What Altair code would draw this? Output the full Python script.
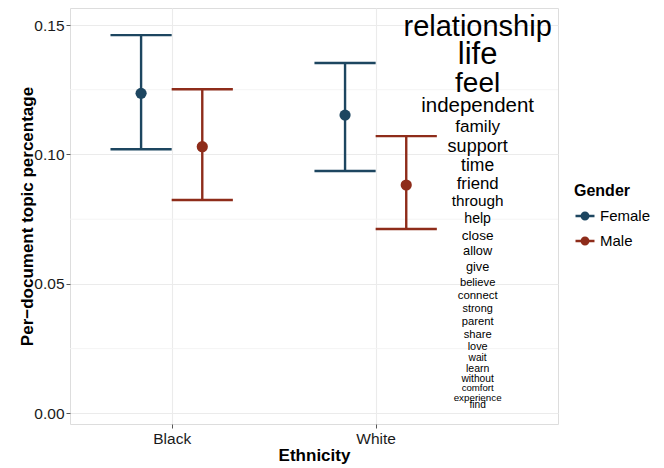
import altair as alt
import pandas as pd

# ---- data ----
ethnicity = ["Black", "Black", "White", "White"]
gender = ["Female", "Male", "Female", "Male"]
mean = [0.1236, 0.1030, 0.1152, 0.0882]
lower = [0.1020, 0.0824, 0.0936, 0.0712]
upper = [0.1461, 0.1252, 0.1353, 0.1071]

words = ["relationship", "life", "feel", "independent", "family", "support", "time",
         "friend", "through", "help", "close", "allow", "give", "believe", "connect",
         "strong", "parent", "share", "love", "wait", "learn", "without", "comfort",
         "experience", "find"]
word_y = [0.1492, 0.1384, 0.1272, 0.1187, 0.1106, 0.1029, 0.0955, 0.0886, 0.0820,
          0.0751, 0.0685, 0.0627, 0.0565, 0.0503, 0.0453, 0.0403, 0.0353, 0.0302,
          0.0256, 0.0214, 0.0171, 0.0132, 0.0098, 0.0059, 0.0032]
word_size = [29, 31, 28, 20.5, 17.2, 18, 17.5, 16.8, 15.3, 14.1, 13.6, 12.8, 12.7,
             11.2, 11.4, 10.9, 11.2, 11.2, 10.9, 10.2, 10.5, 10.2, 9.6, 9.8, 10.2]
word_x = 2.5

eth_labels = ["Black", "White"]
colors = ["#1D4660", "#8E2C1A"]

df = pd.DataFrame({"Ethnicity": ethnicity, "Gender": gender,
                   "mean": mean, "lower": lower, "upper": upper})
wdf = pd.DataFrame({"word": words, "y": word_y, "size": word_size, "x": [word_x] * len(words)})

FONT = "Liberation Sans"
xdom = [0.5015, 2.894]
ydom = [-0.0041, 0.15657]

xscale = alt.Scale(domain=xdom, nice=False, zero=False)
yscale = alt.Scale(domain=ydom, nice=False, zero=False)
color = alt.Color("Gender:N", scale=alt.Scale(domain=["Female", "Male"], range=colors),
                  legend=alt.Legend(title="Gender", orient="none", legendX=504, legendY=175,
                                    titleFontSize=16, titleFont=FONT, titleFontWeight="bold",
                                    labelFontSize=15, labelFont=FONT, labelColor="black",
                                    titleColor="black",
                                    symbolType="M-1,0H1M0.34,0A0.34,0.34,0,1,1,-0.34,0A0.34,0.34,0,1,1,0.34,0Z",
                                    symbolSize=360, symbolStrokeWidth=2.4, rowPadding=5,
                                    titlePadding=6, labelOffset=4))

base = alt.Chart(df).transform_calculate(
    pos="(datum.Ethnicity == 'Black' ? 1 : 2) + (datum.Gender == 'Female' ? -0.15 : 0.15)"
).transform_calculate(
    left="datum.pos - 0.15", right="datum.pos + 0.15"
)

xaxis = alt.Axis(title="Ethnicity", values=[1, 2],
                 labelExpr="datum.value == 1 ? 'Black' : 'White'",
                 grid=True, gridColor="#EBEBEB", gridWidth=1.1,
                 domain=False, tickSize=4, tickColor="#555555", labelPadding=3,
                 labelFontSize=15.5, labelFont=FONT, labelColor="#1a1a1a",
                 titleFontSize=17, titleFont=FONT, titleFontWeight="bold", titleColor="black",
                 titlePadding=1)
yaxis = alt.Axis(title="Per\u2212document topic percentage", values=[0, 0.05, 0.10, 0.15],
                 format=".2f", grid=True, gridColor="#EBEBEB", gridWidth=1.1,
                 domain=False, tickSize=4, tickColor="#555555", labelPadding=2,
                 labelFontSize=15.5, labelFont=FONT, labelColor="#1a1a1a",
                 titleFontSize=17, titleFont=FONT, titleFontWeight="bold", titleColor="black",
                 titlePadding=-3)

minor = alt.Chart(pd.DataFrame({"m": [0.025, 0.075, 0.125]})).mark_rule(
    color="#F4F4F4", strokeWidth=1
).encode(y=alt.Y("m:Q", scale=yscale, axis=yaxis))

vert = base.mark_rule(strokeWidth=2.4).encode(
    x=alt.X("pos:Q", scale=xscale, axis=xaxis),
    y=alt.Y("lower:Q", scale=yscale, axis=yaxis), y2="upper:Q", color=color)
cap_hi = base.mark_rule(strokeWidth=2.4).encode(
    x=alt.X("left:Q", scale=xscale), x2="right:Q",
    y=alt.Y("upper:Q", scale=yscale), color=color)
cap_lo = base.mark_rule(strokeWidth=2.4).encode(
    x=alt.X("left:Q", scale=xscale), x2="right:Q",
    y=alt.Y("lower:Q", scale=yscale), color=color)
pts = base.mark_point(filled=True, opacity=1, size=125).encode(
    x=alt.X("pos:Q", scale=xscale), y=alt.Y("mean:Q", scale=yscale), color=color)

cloud = alt.Chart(wdf).mark_text(font=FONT, color="black", baseline="middle", align="center").encode(
    x=alt.X("x:Q", scale=xscale), y=alt.Y("y:Q", scale=yscale),
    size=alt.Size("size:Q", scale=None, legend=None), text="word:N")

chart = alt.layer(minor, vert, cap_hi, cap_lo, pts, cloud).properties(
    width=488, height=416,
    autosize=alt.AutoSizeParams(type="none"),
    padding={"left": 62, "top": 0, "right": 98, "bottom": 44},
).configure_view(stroke="#7F7F7F", strokeWidth=1.2).configure(background="white")

chart.save("out.html", embed_options={"renderer": "svg", "actions": False})
